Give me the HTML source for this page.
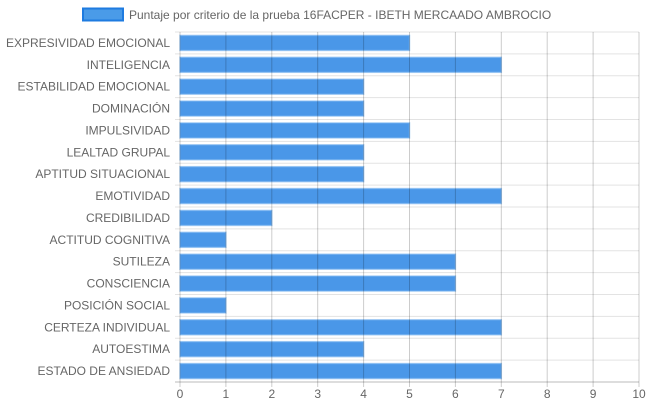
<!DOCTYPE html>
<html><head><meta charset="utf-8"><style>
body{margin:0;background:#fff;font-family:"Liberation Sans",sans-serif;}
svg text{font-family:"Liberation Sans",sans-serif;fill:#666;font-size:12px;}
</style></head><body>
<svg width="648" height="410">
<g id="legend">
<rect x="83" y="8.5" width="40" height="12" fill="#4a9be8" stroke="#1e7be0" stroke-width="2"/>
<text x="129" y="19">Puntaje por criterio de la prueba 16FACPER - IBETH MERCAADO AMBROCIO</text>
</g>
<g id="grid"></g><g id="bars"></g><g id="vgrid"></g><g id="labels"></g>
</svg>
<script>
const categories=["EXPRESIVIDAD EMOCIONAL","INTELIGENCIA","ESTABILIDAD EMOCIONAL","DOMINACIÓN","IMPULSIVIDAD","LEALTAD GRUPAL","APTITUD SITUACIONAL","EMOTIVIDAD","CREDIBILIDAD","ACTITUD COGNITIVA","SUTILEZA","CONSCIENCIA","POSICIÓN SOCIAL","CERTEZA INDIVIDUAL","AUTOESTIMA","ESTADO DE ANSIEDAD"];
const values=[5,7,4,4,5,4,4,7,2,1,6,6,1,7,4,7];
const ticks=[0,1,2,3,4,5,6,7,8,9,10];
const L=180,R=639,T=32,B=382,xMax=10;
const NS="http://www.w3.org/2000/svg";
const xs=v=>L+(R-L)*v/xMax;
const rowH=(B-T)/categories.length;
function mk(tag,attrs,parent){const e=document.createElementNS(NS,tag);for(const k in attrs)e.setAttribute(k,attrs[k]);document.getElementById(parent).appendChild(e);return e;}
for(let i=0;i<=categories.length;i++){
 const y=T+i*rowH;
 const l=mk('line',{x1:L-5,x2:R,y1:y,y2:y,stroke:i==categories.length?'#bbb':'#e3e3e3','stroke-width':1},'grid');
 
 
}
categories.forEach((c,i)=>{
 const yc=T+(i+0.5)*rowH;
 const r=mk('rect',{x:xs(0),y:yc-7.5,width:xs(values[i])-xs(0),height:15,fill:'rgba(54,140,229,0.9)',stroke:'rgba(120,180,240,0.6)','stroke-width':1.5},'bars');
 
 
 const t=mk('text',{x:L-10,y:yc+4,'text-anchor':'end'},'labels');t.textContent=c;
 
 
});
ticks.forEach(v=>{
 const x=xs(v);
 const l=mk('line',{x1:x,x2:x,y1:T,y2:B+5,stroke:'rgba(0,0,0,0.2)','stroke-width':1},'vgrid');
 
 
 const t=mk('text',{x:x,y:398,'text-anchor':'middle'},'labels');t.textContent=v;
 
 
});
</script>
</body></html>
